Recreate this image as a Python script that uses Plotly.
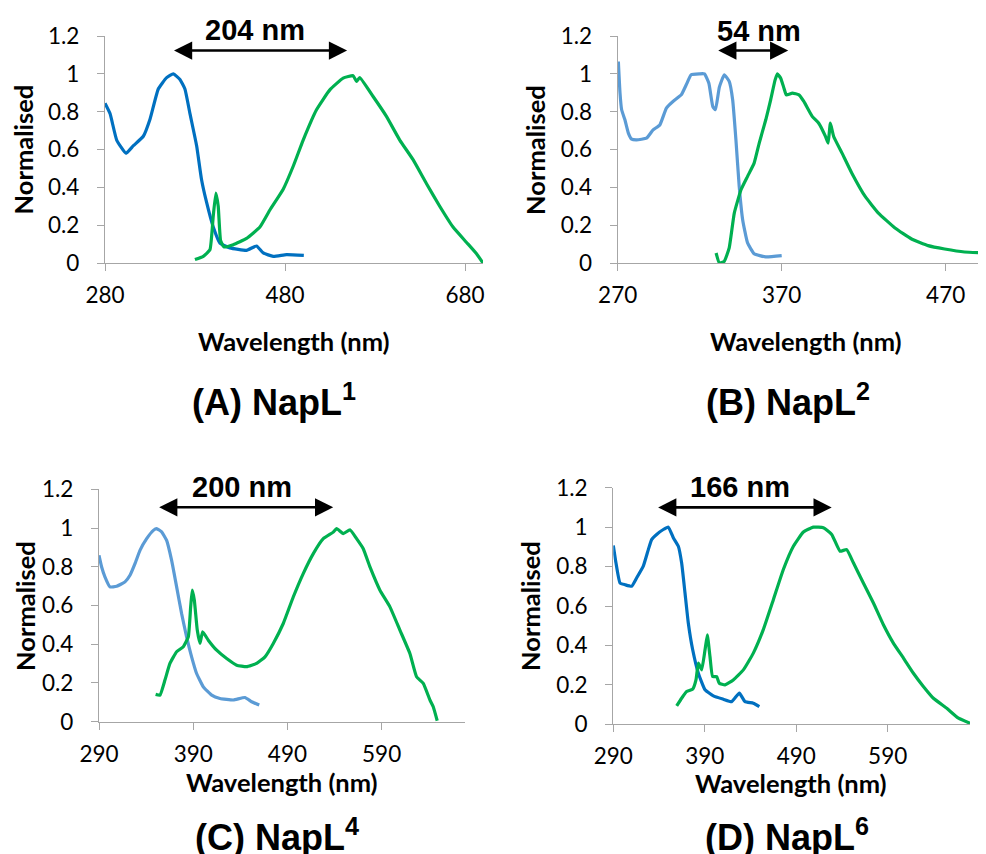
import plotly.graph_objects as go

# ---------------- data ----------------
# Panel A (NapL1)
a_abs_x = [280, 285.6, 293, 303.3, 311.5, 322.6, 330, 339.2, 348.5, 355.9, 363.3, 368.8, 374.4, 381.8,
           387.3, 392.9, 400.3, 407.7, 418.8, 437.3, 448.4, 455.8, 466.9, 481.7, 500.9]
a_abs_y = [0.845, 0.79, 0.65, 0.58, 0.62, 0.67, 0.76, 0.92, 0.98, 1.0, 0.97, 0.92, 0.79, 0.62,
           0.44, 0.32, 0.19, 0.105, 0.08, 0.067, 0.09, 0.053, 0.035, 0.044, 0.04]
a_em_x = [379.9, 389.2, 396.6, 400.3, 403.2, 405.8, 408.4, 412.1, 422.5, 437.3, 452.1, 463.2, 478, 489,
          500.2, 515, 529.8, 544.6, 555.7, 559.4, 563, 577.9, 592.7, 607.5, 622.3, 637.1, 651.9,
          666.7, 681.5, 692.6, 700]
a_em_y = [0.018, 0.035, 0.07, 0.25, 0.37, 0.30, 0.12, 0.085, 0.097, 0.13, 0.19, 0.28, 0.39, 0.51,
          0.65, 0.81, 0.915, 0.977, 0.99, 0.96, 0.98, 0.88, 0.775, 0.65, 0.546, 0.42, 0.30,
          0.19, 0.11, 0.05, 0.0]

# Panel B (NapL2)
b_abs_x = [270.4, 271.4, 272.4, 274.4, 276.5, 278.5, 281.5, 287.6, 291.6, 295.7, 299.7, 303.7, 308.8,
           311.8, 314.8, 319.9, 322.9, 325.6, 328, 329.6, 332, 335, 338, 340.1, 342.1, 344.1, 346.2,
           349.2, 353.2, 360.3, 370]
b_abs_y = [1.065, 0.90, 0.81, 0.757, 0.687, 0.655, 0.651, 0.66, 0.704, 0.73, 0.819, 0.854, 0.889,
           0.942, 0.995, 1.0, 1.0, 0.95, 0.827, 0.81, 0.93, 0.995, 0.96, 0.863, 0.651, 0.405, 0.229,
           0.106, 0.049, 0.032, 0.039]
b_em_x = [330, 332, 335, 338, 341.1, 345.2, 349.2, 353.2, 356.3, 360.3, 363.3, 366, 367.4, 369.4,
          371.4, 372.8, 376.5, 380.5, 383.5, 388.6, 392.6, 396.7, 398.3, 399.7, 401.7, 406.8, 412.8,
          420.9, 429, 439.1, 449.2, 459.3, 469.4, 481.5, 495]
b_em_y = [0.053, 0.0, 0.009, 0.08, 0.264, 0.387, 0.458, 0.528, 0.634, 0.757, 0.863, 0.968, 1.0, 0.977,
          0.924, 0.889, 0.898, 0.889, 0.854, 0.775, 0.739, 0.669, 0.634, 0.739, 0.669, 0.581, 0.475,
          0.352, 0.264, 0.185, 0.127, 0.092, 0.074, 0.058, 0.053]

# Panel C (NapL4)
c_abs_x = [290, 292.8, 296.4, 301.7, 308.7, 317.6, 322.9, 328.2, 333.5, 340.6, 347.7, 351.2, 356.5,
           361.8, 367.1, 372.4, 377.7, 383, 388.3, 393.6, 400.7, 409.6, 418.4, 432.6, 444.9, 452, 460.1]
c_abs_y = [0.859, 0.799, 0.747, 0.696, 0.699, 0.722, 0.756, 0.816, 0.885, 0.945, 0.988, 0.997, 0.98,
           0.936, 0.833, 0.696, 0.558, 0.438, 0.335, 0.249, 0.180, 0.137, 0.120, 0.112, 0.125, 0.103, 0.086]
c_em_x = [350.1, 354.7, 360, 365.3, 372.4, 379.5, 384.8, 387.3, 389, 391.2, 394.3, 397.2, 400, 406,
          414.9, 425.5, 436.1, 446.7, 457.3, 466.2, 475, 485.6, 496.2, 506.8, 517.5, 528.1, 538.7,
          542.2, 549.3, 556.4, 563.4, 570.5, 577.6, 588.2, 598.8, 609.4, 620, 627.1, 634.2, 641.3,
          644.8, 649]
c_em_y = [0.141, 0.137, 0.215, 0.301, 0.361, 0.387, 0.438, 0.593, 0.679, 0.627, 0.473, 0.404, 0.464,
          0.421, 0.369, 0.326, 0.292, 0.284, 0.301, 0.335, 0.404, 0.507, 0.644, 0.765, 0.868, 0.945,
          0.979, 0.997, 0.971, 0.991, 0.945, 0.893, 0.799, 0.679, 0.593, 0.473, 0.352, 0.232, 0.198,
          0.112, 0.077, 0.005]

# Panel D (NapL6)
d_abs_x = [290, 292.9, 297.3, 302.8, 310.1, 315.5, 322.8, 328.3, 331.9, 337.4, 344.7, 350.2, 355.6,
           361.1, 364.7, 368.4, 372, 376.8, 383, 390.3, 399.4, 410.3, 419.4, 427.8, 434, 443.1, 449.7]
d_abs_y = [0.907, 0.819, 0.717, 0.708, 0.70, 0.742, 0.802, 0.886, 0.937, 0.963, 0.988, 1.0, 0.946,
           0.903, 0.819, 0.666, 0.514, 0.378, 0.259, 0.175, 0.144, 0.127, 0.115, 0.158, 0.115, 0.107, 0.09]
d_em_x = [359.3, 364.7, 370.2, 376.8, 380.4, 383, 386.6, 390.3, 392.8, 395.7, 398.6, 403, 405.9, 412.1,
          421.2, 432.2, 443.1, 454, 465, 475.9, 486.9, 497.8, 508.7, 519.7, 528.8, 537.9, 545.2,
          552.5, 563.4, 574.4, 585.3, 596.2, 607.2, 618.1, 629, 640, 654.6, 667.4, 680.1]
d_em_y = [0.093, 0.132, 0.166, 0.178, 0.225, 0.31, 0.276, 0.378, 0.454, 0.344, 0.242, 0.242, 0.208,
          0.2, 0.225, 0.276, 0.361, 0.48, 0.632, 0.785, 0.903, 0.975, 1.0, 0.997, 0.963, 0.878, 0.886,
          0.819, 0.717, 0.615, 0.505, 0.412, 0.336, 0.259, 0.192, 0.132, 0.081, 0.031, 0.005]

# tick labels
y_ticks = [0, 0.2, 0.4, 0.6, 0.8, 1.0, 1.2]
y_ticktext = ["0", "0.2", "0.4", "0.6", "0.8", "1", "1.2"]
a_xticks = [280, 480, 680]
b_xticks = [270, 370, 470]
cd_xticks = [290, 390, 490, 590]

titles = ["(A) NapL<sup>1</sup>", "(B) NapL<sup>2</sup>", "(C) NapL<sup>4</sup>", "(D) NapL<sup>6</sup>"]
shift_labels = ["204 nm", "54 nm", "200 nm", "166 nm"]
# arrow endpoints (nm) and height
arrows = [(355, 549, 1.123), (330.4, 374, 1.123), (352.3, 538.6, 1.107), (337.4, 528.8, 1.10)]
label_pos = [(446.5, 1.232), (356.2, 1.229), (441.4, 1.213), (428.3, 1.205)]

# ---------------- layout helpers ----------------
VIEW_W, VIEW_H = 986, 854
OFF = 8  # the page body margin shifts the figure by 8 px
W, H = VIEW_W - OFF, VIEW_H - OFF
DARK_BLUE = "#0070C0"
LIGHT_BLUE = "#5B9BD5"
GREEN = "#00B050"
AXIS_COL = "#A6A6A6"


def fx(px):
    return (px - OFF) / W


def fy(py):
    return 1 - (py - OFF) / H


panels = [
    dict(x=(105, 483), y=(36, 263), rng=(280, 700), ticks=a_xticks,
         abs=(a_abs_x, a_abs_y, DARK_BLUE), em=(a_em_x, a_em_y)),
    dict(x=(617.7, 986), y=(36, 263), rng=(270, 494.6), ticks=b_xticks,
         abs=(b_abs_x, b_abs_y, LIGHT_BLUE), em=(b_em_x, b_em_y)),
    dict(x=(99, 465), y=(489.3, 721.7), rng=(290, 678.5), ticks=cd_xticks,
         abs=(c_abs_x, c_abs_y, LIGHT_BLUE), em=(c_em_x, c_em_y)),
    dict(x=(613.3, 970), y=(487.7, 724.3), rng=(290, 680), ticks=cd_xticks,
         abs=(d_abs_x, d_abs_y, DARK_BLUE), em=(d_em_x, d_em_y)),
]

title_pos = [(274, 400), (788, 400), (277, 835), (787, 835)]
xtitle_pos = [(294, 341), (806, 341), (282, 782), (791, 783)]
ytitle_pos = [(22.5, 150), (535, 150), (25, 606), (530, 606)]

TICK_FONT = dict(family="Lato", size=22.5, color="black")
AX_TITLE_FONT = dict(family="Lato", size=25.5, color="black", weight="bold")


def to_paper(p, xv, yv):
    """map data coords of a panel to paper fractions"""
    (x0, x1), (ytop, ybot), (r0, r1) = p["x"], p["y"], p["rng"]
    px = x0 + (xv - r0) / (r1 - r0) * (x1 - x0)
    py = ybot - yv / 1.2 * (ybot - ytop)
    return fx(px), fy(py)


fig = go.Figure()
layout = dict(width=W, height=H, margin=dict(l=0, r=0, t=0, b=0, pad=0), autosize=False,
              paper_bgcolor="white", plot_bgcolor="white", showlegend=False, template="none")
annotations = []

for i, p in enumerate(panels):
    n = "" if i == 0 else str(i + 1)
    xa, ya = "x" + n, "y" + n
    fig.add_trace(go.Scatter(x=p["abs"][0], y=p["abs"][1], mode="lines", xaxis=xa, yaxis=ya,
                             line=dict(color=p["abs"][2], width=3.2, shape="spline", smoothing=0.4)))
    fig.add_trace(go.Scatter(x=p["em"][0], y=p["em"][1], mode="lines", xaxis=xa, yaxis=ya,
                             line=dict(color=GREEN, width=3.2, shape="spline", smoothing=0.4)))
    layout["xaxis" + n] = dict(
        domain=[fx(p["x"][0]), min(1.0, fx(p["x"][1]))], anchor=ya, range=list(p["rng"]),
        automargin=False,
        tickvals=p["ticks"], ticks="outside", ticklen=7, tickcolor=AXIS_COL, tickwidth=1.3,
        showline=True, linecolor=AXIS_COL, linewidth=1.3, showgrid=False, zeroline=False,
        tickfont=TICK_FONT, ticklabelstandoff=5)
    layout["yaxis" + n] = dict(
        domain=[fy(p["y"][1]), fy(p["y"][0])], anchor=xa, range=[0, 1.2], automargin=False,
        tickvals=y_ticks, ticktext=y_ticktext,
        ticks="outside", ticklen=7, tickcolor=AXIS_COL, tickwidth=1.3,
        showline=True, linecolor=AXIS_COL, linewidth=1.3, showgrid=False, zeroline=False,
        tickfont=TICK_FONT, ticklabelstandoff=13)

    # double-headed arrow
    x0, x1, yy = arrows[i]
    annotations.append(dict(x=x1, y=yy, ax=x0, ay=yy, xref=xa, yref=ya, axref=xa, ayref=ya,
                            text="", showarrow=True, arrowhead=2, startarrowhead=2,
                            arrowside="end+start", arrowsize=1.4, startarrowsize=1.4,
                            arrowwidth=2.6, arrowcolor="black"))
    lx, ly = to_paper(p, *label_pos[i])
    annotations.append(dict(x=lx, y=ly, xref="paper", yref="paper", text=shift_labels[i],
                            showarrow=False,
                            font=dict(family="Liberation Sans", size=29, color="black", weight="bold"),
                            xanchor="center", yanchor="middle"))
    # panel title
    tx, ty = title_pos[i]
    annotations.append(dict(x=fx(tx), y=fy(ty), xref="paper", yref="paper", text=titles[i],
                            showarrow=False, xanchor="center", yanchor="middle",
                            font=dict(family="Liberation Sans", size=36, color="black", weight="bold")))
    # axis titles
    wx, wy = xtitle_pos[i]
    annotations.append(dict(x=fx(wx), y=fy(wy), xref="paper", yref="paper",
                            text="Wavelength (nm)", showarrow=False, xanchor="center",
                            yanchor="middle", font=AX_TITLE_FONT))
    nx, ny = ytitle_pos[i]
    annotations.append(dict(x=fx(nx), y=fy(ny), xref="paper", yref="paper",
                            text="Normalised", showarrow=False, textangle=-90,
                            xanchor="center", yanchor="middle", font=AX_TITLE_FONT))

layout["annotations"] = annotations
fig.update_layout(**layout)
fig.write_html("out.html")
